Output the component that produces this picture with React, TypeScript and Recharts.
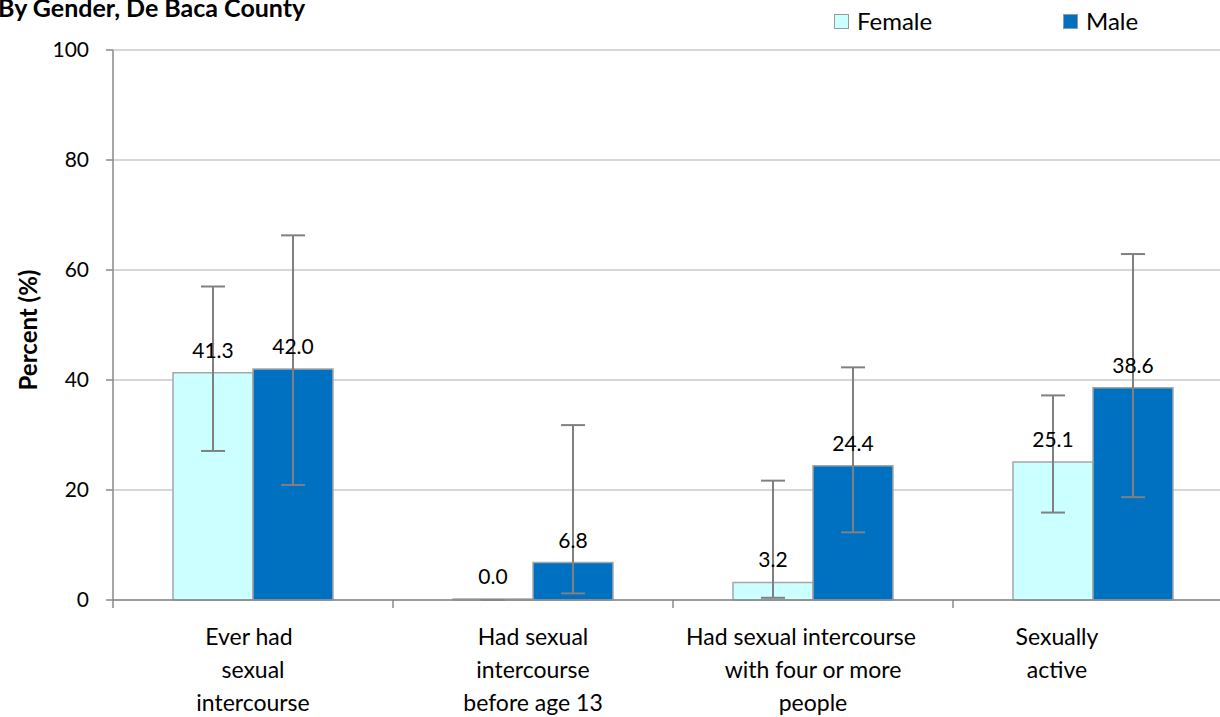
import React from 'react';
import { BarChart, Bar, XAxis, YAxis, CartesianGrid, Legend, ErrorBar, LabelList } from 'recharts';

const categories = [
  'Ever had sexual intercourse',
  'Had sexual intercourse before age 13',
  'Had sexual intercourse with four or more people',
  'Sexually active',
];
const categoryLines = [
  ['Ever had', 'sexual', 'intercourse'],
  ['Had sexual', 'intercourse', 'before age 13'],
  ['Had sexual intercourse', 'with four or more', 'people'],
  ['Sexually', 'active'],
];
const female = [41.3, 0.0, 3.2, 25.1];
const femaleLow = [27.1, 0.0, 0.4, 15.9];
const femaleHigh = [57.0, 0.0, 21.7, 37.2];
const male = [42.0, 6.8, 24.4, 38.6];
const maleLow = [20.9, 1.2, 12.3, 18.7];
const maleHigh = [66.3, 31.8, 42.3, 62.9];
const yTicks = [0, 20, 40, 60, 80, 100];

// the last label sits left of its band centre, as the chart is clipped on the right
const labelShift = [0, 0, 0, -36];
// first-line nudges (Excel wraps with a trailing space)
const firstLineShift = [-4, 0, -12, 0];

const FEMALE_COLOR = '#CCFFFF';
const MALE_COLOR = '#0070C0';
const FONT = 'Lato, "Open Sans", sans-serif';

const data = categories.map((name, i) => ({
  name,
  female: female[i],
  male: male[i],
  femaleErr: [female[i] - femaleLow[i], femaleHigh[i] - female[i]],
  maleErr: [male[i] - maleLow[i], maleHigh[i] - male[i]],
}));

const CategoryTick = (props: any) => {
  const { x, y, payload, index } = props;
  const half = payload && payload.offset ? payload.offset : 140;
  const lines = categoryLines[index] || [];
  const cx = x + (labelShift[index] || 0);
  return (
    <g>
      <line x1={x - half} x2={x - half} y1={y} y2={y + 8} stroke="#888" strokeWidth={1.5} />
      {lines.map((ln: string, k: number) => (
        <text
          key={k}
          x={cx + (k === 0 ? firstLineShift[index] || 0 : 0)}
          y={y + 45 + k * 33}
          textAnchor="middle"
          fill="#000"
          fontSize={23}
          fontFamily={FONT}
        >
          {ln}
        </text>
      ))}
    </g>
  );
};

const ValueLabel = (props: any) => {
  const { x, y, width, value } = props;
  if (value === undefined || value === null) return null;
  return (
    <text
      x={Number(x) + Number(width) / 2}
      y={Number(y) - 15}
      textAnchor="middle"
      fill="#000"
      fontSize={21}
      fontFamily={FONT}
    >
      {Number(value).toFixed(1)}
    </text>
  );
};

const LegendBox = () => (
  <div style={{ display: 'flex', fontFamily: FONT, fontSize: 24, color: '#000', lineHeight: '28px' }}>
    <div style={{ display: 'flex', alignItems: 'center', width: 229 }}>
      <span style={{ width: 13, height: 13, background: FEMALE_COLOR, border: '1px solid #999', marginRight: 8 }} />
      Female
    </div>
    <div style={{ display: 'flex', alignItems: 'center' }}>
      <span style={{ width: 13, height: 13, background: MALE_COLOR, border: '1px solid #999', marginRight: 8 }} />
      Male
    </div>
  </div>
);

const YLabel = () => (
  <text
    x={27}
    y={330}
    transform="rotate(-90 27 330)"
    textAnchor="middle"
    dominantBaseline="central"
    fontSize={24}
    fontWeight="bold"
    fontFamily={FONT}
    fill="#000"
  >
    Percent (%)
  </text>
);

export default function App() {
  return (
    <div style={{ position: 'absolute', left: 0, top: 0, width: 1220, height: 717, background: '#fff', overflow: 'hidden' }}>
      <div
        style={{
          position: 'absolute',
          left: -2,
          top: -8,
          fontFamily: FONT,
          fontWeight: 'bold',
          fontSize: 25,
          lineHeight: '30px',
          color: '#000',
          whiteSpace: 'nowrap',
        }}
      >
        By Gender, De Baca County
      </div>
      <BarChart
        width={1220}
        height={717}
        data={data}
        margin={{ top: 50, right: -13, bottom: 0, left: 0 }}
        barCategoryGap={60}
        barGap={0}
      >
        <CartesianGrid horizontal vertical={false} stroke="#c8c8c8" strokeWidth={1.5} />
        <XAxis
          dataKey="name"
          height={117}
          axisLine={{ stroke: '#888', strokeWidth: 1.5 }}
          tickLine={false}
          tickSize={0}
          tickMargin={0}
          interval={0}
          tick={<CategoryTick />}
        />
        <YAxis
          width={113}
          domain={[0, 100]}
          ticks={yTicks}
          interval={0}
          axisLine={{ stroke: '#888', strokeWidth: 1.5 }}
          tickLine={{ stroke: '#888', strokeWidth: 1.5 }}
          tickSize={7}
          tickMargin={17}
          tick={{ fill: '#000', fontSize: 21, fontFamily: FONT }}
          label={<YLabel />}
        />
        <Legend
          verticalAlign="middle"
          align="center"
          layout="horizontal"
          content={<LegendBox />}
          wrapperStyle={{ top: 7, left: 834, width: 340 }}
        />
        <Bar dataKey="female" name="Female" fill={FEMALE_COLOR} stroke="#a6a6a6" strokeWidth={1.5} minPointSize={1} isAnimationActive={false}>
          <LabelList dataKey="female" content={<ValueLabel />} />
          <ErrorBar dataKey="femaleErr" direction="y" width={12} stroke="#808080" strokeWidth={2} />
        </Bar>
        <Bar dataKey="male" name="Male" fill={MALE_COLOR} stroke="#a6a6a6" strokeWidth={1.5} isAnimationActive={false}>
          <LabelList dataKey="male" content={<ValueLabel />} />
          <ErrorBar dataKey="maleErr" direction="y" width={12} stroke="#808080" strokeWidth={2} />
        </Bar>
      </BarChart>
    </div>
  );
}
